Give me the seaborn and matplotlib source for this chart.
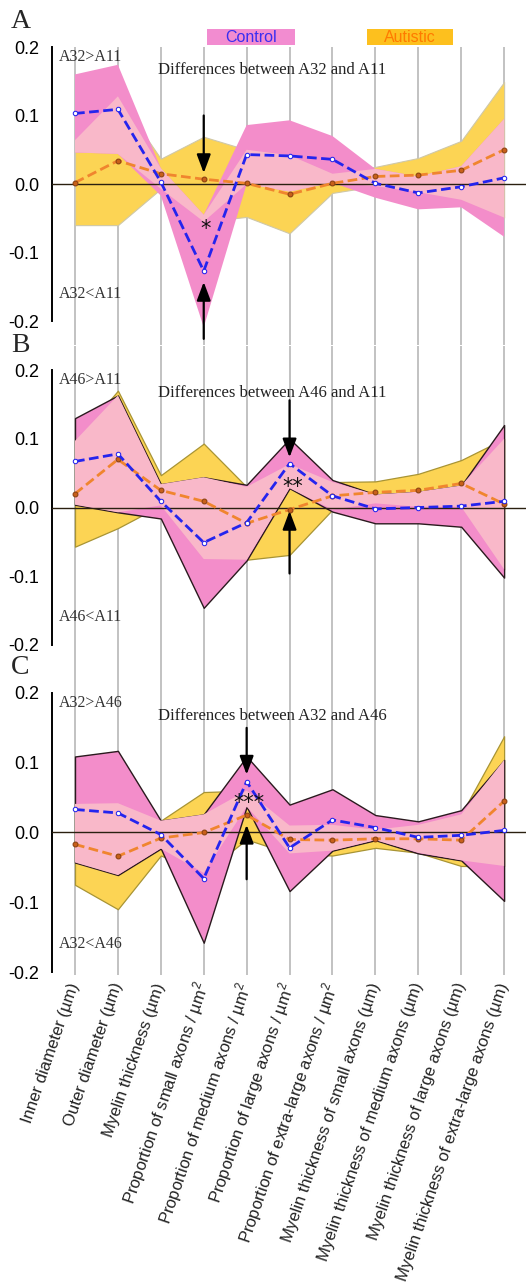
import numpy as np
import pandas as pd
import matplotlib
matplotlib.use("Agg")
import matplotlib.pyplot as plt
from matplotlib.patches import Rectangle
import seaborn as sns

# categories on the x axis
categories = [
    "Inner diameter (µm)",
    "Outer diameter (µm)",
    "Myelin thickness (µm)",
    "Proportion of small axons / µm$^2$",
    "Proportion of medium axons / µm$^2$",
    "Proportion of large axons / µm$^2$",
    "Proportion of extra-large axons / µm$^2$",
    "Myelin thickness of small axons (µm)",
    "Myelin thickness of medium axons (µm)",
    "Myelin thickness of large axons (µm)",
    "Myelin thickness of extra-large axons (µm)",
]

# A: A32 vs A11 (mean difference and half-width of the band)
ctrl_A = [0.103, 0.109, 0.003, -0.127, 0.043, 0.041, 0.036, 0.001, -0.013, -0.004, 0.009]
ctrl_A_ci = [0.057, 0.065, 0.020, 0.082, 0.043, 0.052, 0.034, 0.021, 0.024, 0.030, 0.086]
aut_A = [0.002, 0.034, 0.015, 0.007, 0.001, -0.015, 0.001, 0.011, 0.013, 0.020, 0.050]
aut_A_ci = [0.062, 0.094, 0.022, 0.062, 0.049, 0.057, 0.014, 0.014, 0.025, 0.043, 0.099]

# B: A46 vs A11
ctrl_B = [0.067, 0.078, 0.009, -0.051, -0.022, 0.064, 0.017, -0.002, 0.000, 0.002, 0.009]
ctrl_B_ci = [0.063, 0.085, 0.025, 0.095, 0.055, 0.036, 0.023, 0.021, 0.023, 0.030, 0.111]
aut_B = [0.020, 0.070, 0.025, 0.009, -0.023, -0.003, 0.017, 0.022, 0.025, 0.035, 0.005]
aut_B_ci = [0.077, 0.100, 0.022, 0.084, 0.053, 0.066, 0.020, 0.016, 0.024, 0.034, 0.095]

# C: A32 vs A46
ctrl_C = [0.033, 0.028, -0.003, -0.066, 0.073, -0.022, 0.018, 0.007, -0.007, -0.004, 0.003]
ctrl_C_ci = [0.076, 0.089, 0.020, 0.092, 0.036, 0.062, 0.044, 0.018, 0.023, 0.036, 0.101]
aut_C = [-0.017, -0.034, -0.008, 0.000, 0.025, -0.010, -0.011, -0.009, -0.009, -0.011, 0.045]
aut_C_ci = [0.058, 0.076, 0.025, 0.058, 0.035, 0.020, 0.022, 0.013, 0.020, 0.037, 0.093]

letters = ["A", "B", "C"]
pairs = [("A32", "A11"), ("A46", "A11"), ("A32", "A46")]
stars = ["*", "**", "***"]
star_cat = [3, 5, 4]
star_y = [-0.066, 0.030, 0.043]
# arrows: (tail, head) values at the starred category
arrow_down = [(0.100, 0.016), (0.156, 0.073), (0.150, 0.083)]
arrow_up = [(-0.226, -0.143), (-0.096, -0.005), (-0.067, 0.011)]

sns.set_theme(style="white")
plt.rcParams["font.family"] = ["Liberation Sans", "DejaVu Sans"]
plt.rcParams["axes.unicode_minus"] = False
plt.rcParams["mathtext.fontset"] = "custom"
plt.rcParams["mathtext.rm"] = "Liberation Sans"

PINK = "#f38dca"
LIGHT = "#f9b8c9"
GOLD = "#fcd454"
BLUE = "#2424ee"
ORANGE = "#f0852e"
SERIF = ["Liberation Serif", "DejaVu Serif"]

W, H = 526, 1283
fig = plt.figure(figsize=(W / 100, H / 100), dpi=100)

# (top px, bottom px, ylim, letter y px)
frames = [(47, 345, (-0.235, 0.2), 22), (346, 669, (-0.235, 0.235), 346),
          (669, 975, (-0.2043, 0.2344), 668)]

panels = [
    (ctrl_A, ctrl_A_ci, aut_A, aut_A_ci),
    (ctrl_B, ctrl_B_ci, aut_B, aut_B_ci),
    (ctrl_C, ctrl_C_ci, aut_C, aut_C_ci),
]

x = np.arange(len(categories))
for i, ((ctrl, cci, aut, aci), (top, bot, ylim, ly)) in enumerate(zip(panels, frames)):
    ax = fig.add_axes([52 / W, 1 - bot / H, (W - 52) / W, (bot - top) / H])
    ctrl = np.array(ctrl); cci = np.array(cci)
    aut = np.array(aut); aci = np.array(aci)
    c_lo, c_hi = ctrl - cci, ctrl + cci
    a_lo, a_hi = aut - aci, aut + aci

    ax.set_xlim(-0.536, 10.51)
    ax.set_ylim(*ylim)
    for xv in x:
        ax.axvline(xv, color="#b8b8b8", lw=1.2, zorder=0)

    if i == 0:
        ax.fill_between(x, a_lo, a_hi, facecolor=GOLD, edgecolor="#cfc8a8", lw=0.8, zorder=1)
        ax.fill_between(x, c_lo, c_hi, facecolor=PINK, edgecolor="none", zorder=2)
    else:
        ax.fill_between(x, a_lo, a_hi, facecolor=GOLD, edgecolor="#a89434", lw=0.9, zorder=1)
        ax.fill_between(x, c_lo, c_hi, facecolor=PINK, edgecolor="#2a1a1e", lw=1.0, zorder=2)
    o_lo = np.maximum(c_lo, a_lo)
    o_hi = np.minimum(c_hi, a_hi)
    ax.fill_between(x, o_lo, o_hi, where=o_hi > o_lo, interpolate=True,
                    facecolor=LIGHT, edgecolor="none", zorder=3)

    ax.axhline(0, color="#2a2010", lw=1.0, zorder=4)

    df = pd.DataFrame({"x": x, "Control": ctrl, "Autistic": aut})
    sns.lineplot(data=df, x="x", y="Autistic", ax=ax, color=ORANGE, lw=2.0,
                 linestyle=(0, (3.5, 1.6)), marker="o", markersize=3.5,
                 markerfacecolor="#c8601a", markeredgecolor="#8a4010", zorder=5)
    sns.lineplot(data=df, x="x", y="Control", ax=ax, color=BLUE, lw=2.0,
                 linestyle=(0, (3.5, 1.6)), marker="o", markersize=3.2,
                 markerfacecolor="white", markeredgecolor=BLUE, zorder=6)

    # significance arrows and stars
    k = star_cat[i]
    arrow = dict(arrowstyle="-|>,head_length=0.8,head_width=0.3", color="black",
                 lw=1.6, mutation_scale=14, shrinkA=0, shrinkB=0)
    ax.annotate("", xy=(k, arrow_down[i][1]), xytext=(k, arrow_down[i][0]),
                arrowprops=arrow, zorder=8, annotation_clip=False)
    ax.annotate("", xy=(k, arrow_up[i][1]), xytext=(k, arrow_up[i][0]),
                arrowprops=arrow, zorder=8, annotation_clip=False)
    sx = k + (0.08 if i == 1 else 0.05)
    ax.text(sx, star_y[i], stars[i], ha="center", va="center", fontsize=15,
            family="DejaVu Sans", color="#111111", zorder=9)

    g1, g2 = pairs[i]
    ax.text(-0.37, 0.186, f"{g1}>{g2}", family=SERIF, fontsize=11.5, color="#333333",
            ha="left", va="center")
    ax.text(-0.37, -0.16, f"{g1}<{g2}", family=SERIF, fontsize=11.5, color="#333333",
            ha="left", va="center")
    ax.text(4.6, 0.167, f"Differences between {g1} and {g2}", family=SERIF, fontsize=12,
            color="#222222", ha="center", va="center")

    ax.set_yticks([-0.2, -0.1, 0.0, 0.1, 0.2])
    ax.set_yticklabels(["-0.2", "-0.1", "0.0", "0.1", "0.2"], fontsize=13)
    ax.tick_params(axis="y", direction="out", length=2, width=1, pad=7, colors="black")
    ax.set_ylabel("")
    ax.set_xlabel("")
    ax.spines["left"].set_bounds(-0.2, 0.2)
    ax.spines["left"].set_linewidth(1.4)
    ax.spines["left"].set_color("black")
    for s in ["top", "right", "bottom"]:
        ax.spines[s].set_visible(False)
    ax.set_xticks(x)
    if i == 2:
        ax.set_xticklabels(categories, rotation=71, ha="right", va="center",
                           rotation_mode="anchor", fontsize=12, color="#222222")
        ax.tick_params(axis="x", length=0, pad=6)
    else:
        ax.set_xticklabels([])
        ax.tick_params(axis="x", length=0)
    ax.patch.set_alpha(0)

    fig.text(11 / W, 1 - ly / H, letters[i], family=SERIF, fontsize=20,
             ha="left", va="center")

# legend boxes
fig.patches.append(Rectangle((207 / W, 1 - 45 / H), 88 / W, 16 / H, transform=fig.transFigure,
                             facecolor="#f28cd0", edgecolor="none"))
fig.patches.append(Rectangle((367 / W, 1 - 45 / H), 86 / W, 16 / H, transform=fig.transFigure,
                             facecolor="#fdc01e", edgecolor="none"))
fig.text(251 / W, 1 - 37 / H, "Control", color="#3a2ef0", fontsize=11.5, ha="center", va="center")
fig.text(410 / W, 1 - 37 / H, "Autistic", color="#ff7a00", fontsize=11.5, ha="center", va="center")

fig.savefig("out.png", dpi=100)
